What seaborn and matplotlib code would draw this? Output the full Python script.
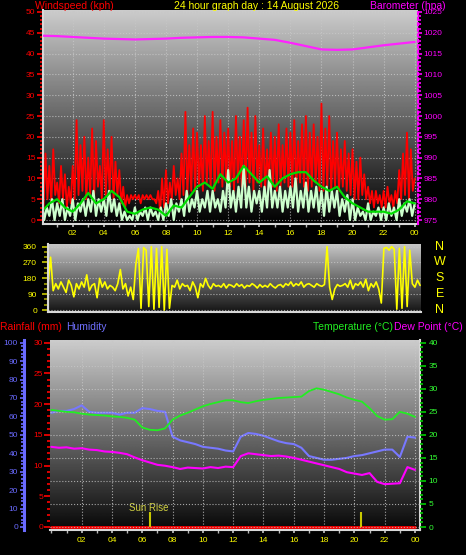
import numpy as np
import matplotlib
matplotlib.use("Agg")
import matplotlib.pyplot as plt
import matplotlib.transforms as mtrans
import seaborn as sns
from matplotlib.ticker import MultipleLocator, FixedLocator

sns.set_theme(style="ticks")
plt.rcParams['font.family'] = ['Liberation Sans', 'DejaVu Sans']

# ---- data ----
hour_ticks = [2, 4, 6, 8, 10, 12, 14, 16, 18, 20, 22, 24]
hour_labels = ['02', '04', '06', '08', '10', '12', '14', '16', '18', '20', '22', '00']

# gusts (kph), 8 samples per hour
gust_rows = [
    [11, 3, 16, 5, 13, 4, 17, 6],
    [9, 4, 13, 5, 11, 3, 8, 4],
    [13, 5, 24, 6, 18, 7, 20, 5],
    [15, 6, 22, 5, 19, 8, 13, 5],
    [24, 6, 17, 7, 20, 5, 14, 6],
    [12, 4, 8, 3, 6, 4, 6, 5],
    [6, 5, 6, 4, 6, 5, 6, 5],
    [6, 5, 5, 4, 7, 2, 10, 3],
    [12, 4, 9, 5, 13, 6, 10, 5],
    [16, 6, 26, 6, 18, 7, 22, 7],
    [21, 8, 18, 7, 25, 9, 19, 8],
    [26, 7, 20, 9, 24, 8, 21, 9],
    [22, 8, 19, 7, 25, 9, 20, 8],
    [24, 8, 27, 9, 21, 7, 25, 9],
    [18, 8, 22, 7, 17, 9, 21, 8],
    [20, 7, 23, 8, 18, 9, 22, 8],
    [21, 8, 24, 7, 19, 9, 23, 8],
    [25, 7, 21, 8, 23, 9, 20, 7],
    [28, 7, 22, 8, 25, 7, 19, 8],
    [21, 7, 17, 8, 19, 7, 16, 6],
    [17, 5, 14, 5, 15, 6, 11, 5],
    [8, 4, 7, 3, 7, 4, 6, 3],
    [7, 3, 8, 4, 6, 3, 7, 4],
    [12, 5, 16, 6, 21, 5, 17, 7],
]
gust_end = 10

# wind speed (kph), 6 samples per hour
speed_rows = [
    [5, 0, 3, 1, 5, 0],
    [4, 1, 5, 0, 3, 1],
    [5, 0, 4, 2, 5, 1],
    [5, 2, 7, 1, 5, 2],
    [5, 1, 7, 2, 5, 1],
    [4, 0, 2, 0, 1, 0],
    [3, 0, 2, 1, 3, 0],
    [3, 1, 2, 0, 3, 0],
    [4, 1, 5, 0, 4, 2],
    [5, 1, 7, 2, 5, 3],
    [7, 2, 5, 3, 7, 2],
    [7, 3, 5, 2, 7, 3],
    [12, 3, 7, 2, 8, 3],
    [13, 3, 8, 2, 7, 4],
    [7, 2, 8, 3, 12, 3],
    [7, 3, 8, 2, 7, 3],
    [8, 3, 10, 2, 7, 3],
    [9, 2, 7, 3, 8, 2],
    [7, 1, 8, 2, 7, 3],
    [7, 1, 5, 2, 6, 0],
    [5, 0, 3, 1, 2, 0],
    [4, 0, 2, 1, 3, 0],
    [3, 0, 4, 1, 3, 0],
    [5, 1, 4, 2, 5, 1],
]
speed_end = 4

# average wind (kph), every half hour
avg_wind = [2, 4, 5, 3, 2, 4, 6.5, 4, 5, 7, 5.5, 2, 1.5, 2.5, 3, 2.5,
            1, 3.5, 3, 5.5, 8, 9, 7.5, 11, 9, 10, 13, 11, 9, 10.5, 8, 10,
            11, 11.5, 11.5, 9.5, 8, 7, 8, 5.5, 4, 3, 2, 2, 2, 1.5, 2.5, 4.5, 4]

# barometer (hpa), hourly
barometer = [1019.3, 1019.2, 1019.0, 1018.8, 1018.6, 1018.5, 1018.4, 1018.5,
             1018.6, 1018.8, 1018.9, 1019.0, 1019.0, 1018.9, 1018.6, 1018.3,
             1017.6, 1016.8, 1016.0, 1015.9, 1016.0, 1016.5, 1017.0, 1017.4, 1017.8]

# wind direction (degrees), 6 samples per hour
direction_rows = [
    [140, 300, 110, 150, 120, 160],
    [130, 100, 170, 140, 75, 150],
    [120, 160, 130, 200, 110, 140],
    [150, 70, 180, 130, 160, 120],
    [140, 130, 110, 150, 230, 120],
    [150, 80, 130, 60, 260, 350],
    [10, 355, 340, 20, 360, 5],
    [350, 15, 360, 0, 345, 10],
    [140, 130, 170, 120, 150, 135],
    [140, 110, 160, 130, 70, 150],
    [130, 180, 140, 120, 150, 135],
    [140, 130, 150, 125, 145, 140],
    [130, 150, 135, 145, 125, 140],
    [135, 150, 140, 125, 145, 130],
    [140, 130, 150, 135, 125, 140],
    [145, 130, 150, 140, 160, 135],
    [150, 140, 160, 130, 145, 150],
    [140, 130, 150, 140, 135, 145],
    [360, 130, 60, 120, 145, 135],
    [140, 150, 130, 170, 120, 150],
    [140, 160, 130, 175, 110, 150],
    [130, 160, 120, 40, 350, 355],
    [340, 360, 345, 5, 350, 10],
    [360, 20, 340, 150, 130, 170],
]
direction_end = 140

# half-hourly temperature, humidity, dew point
temperature = [25.4, 25.2, 25.0, 24.9, 24.6, 24.4, 24.3, 24.2, 24.0, 23.9, 23.7, 23.3,
               21.6, 21.1, 21.0, 21.4, 23.3, 24.2, 24.8, 25.5, 26.2, 26.7, 27.1, 27.5,
               27.5, 27.1, 26.9, 27.3, 27.6, 27.8, 28.0, 28.1, 28.2, 28.3, 29.5, 30.1,
               29.8, 29.3, 28.8, 28.1, 27.6, 27.2, 25.8, 24.1, 23.3, 23.4, 25.0, 24.6, 23.9]
humidity = [62, 63, 63, 64, 66, 62.5, 62, 62, 62, 61, 62, 62,
            64.5, 64, 63, 62.5, 49, 47, 46, 45, 43.5, 43, 42.5, 41.5,
            41, 49, 51, 50.5, 49.5, 48, 46.5, 45.5, 45, 43, 38.5, 37.5,
            36.5, 36.5, 37, 37.5, 38.5, 39, 40, 41, 42, 42, 38, 49, 48.5]
dew_point = [17.4, 17.2, 17.3, 17.0, 17.1, 16.8, 16.7, 16.4, 16.3, 16.1, 15.8, 15.1,
             14.5, 14.0, 13.5, 13.3, 13.0, 12.6, 12.9, 12.8, 12.7, 13.0, 12.8, 13.1,
             13.0, 15.4, 16.0, 15.8, 15.6, 15.4, 15.5, 15.3, 15.0, 14.6, 14.2, 13.8,
             13.4, 13.0, 12.6, 11.9, 11.6, 11.3, 11.7, 9.8, 9.3, 9.4, 9.5, 13.0, 12.4]
rainfall = [0] * 25

sun_rise = 6.5
sun_set = 20.45

gust = np.array([v for row in gust_rows for v in row] + [gust_end], dtype=float)
speed = np.array([v for row in speed_rows for v in row] + [speed_end], dtype=float)
direction = np.array([v for row in direction_rows for v in row] + [direction_end], dtype=float)

W, H = 466, 555
fig = plt.figure(figsize=(W / 100, H / 100), dpi=100, facecolor='black')


def px_axes(x0, y0, x1, y1):
    return fig.add_axes([x0 / W, 1 - y1 / H, (x1 - x0) / W, (y1 - y0) / H])


def backdrop(ax, top, bottom):
    grad = np.linspace(top, bottom, 256).reshape(-1, 1)
    ax.imshow(grad, cmap='gray', vmin=0, vmax=1, extent=[0, 1, 0, 1],
              transform=ax.transAxes, aspect='auto', zorder=0, interpolation='bilinear')
    ax.set_facecolor('black')


def frame(ax, sides=('left', 'bottom')):
    for s in ax.spines:
        ax.spines[s].set_visible(s in sides)
        ax.spines[s].set_color('#d8d8d8')
        ax.spines[s].set_linewidth(1.5)


def line(ax, x, y, color, lw):
    sns.lineplot(x=x, y=y, ax=ax, color=color, linewidth=lw, estimator=None, legend=False)


grid_kw = dict(color='#c8c8c8', linestyle=':', linewidth=0.8, alpha=0.8)
small = 6

# ---------------- top panel: wind + barometer ----------------
ax1 = px_axes(43, 10, 418, 224)
backdrop(ax1, 0.80, 0.0)
line(ax1, np.arange(len(gust)) / 8, gust, '#ff0000', 1.3)
line(ax1, np.arange(len(speed)) / 6, speed, '#ccffcc', 1.6)
line(ax1, np.arange(len(avg_wind)) / 2, avg_wind, '#00dd00', 1.6)
ax1.set_xlim(0.09, 24.21)
ax1.set_ylim(-0.96, 50.48)
frame(ax1)
ax1.xaxis.set_major_locator(FixedLocator(hour_ticks))
ax1.set_xticklabels(hour_labels)
ax1.xaxis.set_minor_locator(MultipleLocator(1))
ax1.yaxis.set_major_locator(MultipleLocator(5))
ax1.yaxis.set_minor_locator(MultipleLocator(1))
ax1.tick_params(axis='x', which='both', colors='#bbbbbb', labelcolor='yellow',
                labelsize=small, length=2, pad=2)
ax1.tick_params(axis='y', which='major', colors='red', labelsize=small, length=4, width=1.2, pad=1.5)
ax1.tick_params(axis='y', which='minor', colors='red', length=2, width=1.2)
ax1.grid(True, which='major', **grid_kw)
ax1.set_axisbelow(True)

ax1b = ax1.twinx()
line(ax1b, np.arange(len(barometer)), barometer, '#ff22ff', 1.6)
ax1b.set_ylim(974.04, 1025.48)
ax1b.set_xlim(0.09, 24.21)
for s in ax1b.spines:
    ax1b.spines[s].set_visible(s == 'right')
ax1b.spines['right'].set_color('#ff00ff')
ax1b.spines['right'].set_linestyle(':')
ax1b.spines['right'].set_linewidth(1.5)
ax1b.yaxis.set_major_locator(MultipleLocator(5))
ax1b.yaxis.set_minor_locator(MultipleLocator(1))
ax1b.tick_params(axis='y', which='major', colors='#ff00ff', labelsize=small, length=3, width=1.2, pad=1)
ax1b.tick_params(axis='y', which='minor', colors='#ff00ff', length=2, width=1.2)
ax1b.set_ylabel('')

# ---------------- middle panel: wind direction ----------------
ax2 = px_axes(48, 244, 421, 312)
backdrop(ax2, 0.78, 0.08)
line(ax2, np.arange(len(direction)) / 6, direction, '#ffff00', 1.2)
ax2.set_xlim(0, 24.06)
ax2.set_ylim(-11, 375)
frame(ax2)
ax2.set_xticks([])
ax2.yaxis.set_major_locator(FixedLocator([0, 90, 180, 270, 360]))
ax2.yaxis.set_minor_locator(MultipleLocator(30))
ax2.tick_params(axis='y', which='major', colors='#c8c800', labelcolor='yellow',
                labelsize=small, length=4, width=1.2, pad=4)
ax2.tick_params(axis='y', which='minor', colors='#a0a000', length=3, width=1.2)
ax2.grid(True, axis='y', which='major', **grid_kw)
ax2.set_axisbelow(True)
blend = mtrans.blended_transform_factory(fig.transFigure, ax2.transData)
for deg, name in zip([360, 270, 180, 90, 0], ['N', 'W', 'S', 'E', 'N']):
    ax2.text(440 / W, deg, name, color='yellow', fontsize=9, ha='center', va='center',
             transform=blend)

# ---------------- bottom panel: rain, humidity, temperature ----------------
ax3 = px_axes(50, 340, 420, 530)
backdrop(ax3, 0.80, 0.03)
line(ax3, np.arange(len(rainfall)), rainfall, '#ff0000', 2.0)
ax3.vlines([sun_rise, sun_set], 0, 2.5, color='#c8c800', linewidth=1.5, zorder=3)
ax3.text(sun_rise - 0.1, 3.1, 'Sun Rise', color='#d0d040', fontsize=7, ha='center', va='center')
ax3.set_xlim(-0.09, 24.33)
ax3.set_ylim(-0.49, 30.44)
frame(ax3, ('bottom', 'right'))
ax3.xaxis.set_major_locator(FixedLocator(hour_ticks))
ax3.set_xticklabels(hour_labels)
ax3.xaxis.set_minor_locator(MultipleLocator(1))
ax3.yaxis.set_major_locator(MultipleLocator(5))
ax3.yaxis.set_minor_locator(MultipleLocator(1))
ax3.tick_params(axis='x', which='both', colors='#bbbbbb', labelcolor='yellow',
                labelsize=small, length=2, pad=3)
ax3.tick_params(axis='y', which='major', colors='red', labelsize=small, length=4, width=1.2, pad=1)
ax3.tick_params(axis='y', which='minor', colors='red', length=2, width=1.2)
ax3.grid(True, which='major', axis='x', **grid_kw)
ax3.set_axisbelow(True)

ax3h = ax3.twinx()
line(ax3h, np.arange(len(humidity)) / 2, humidity, '#7878ff', 1.5)
ax3h.set_ylim(-1.63, 101.47)
ax3h.set_xlim(-0.09, 24.33)
ax3h.yaxis.tick_left()
for s in ax3h.spines:
    ax3h.spines[s].set_visible(s == 'left')
ax3h.spines['left'].set_position(('outward', 19))
ax3h.spines['left'].set_color('#6a6aff')
ax3h.spines['left'].set_linewidth(2.2)
ax3h.yaxis.set_major_locator(MultipleLocator(10))
ax3h.yaxis.set_minor_locator(MultipleLocator(2))
ax3h.tick_params(axis='y', which='major', colors='#6a6aff', labelsize=small, length=3, width=1.2, pad=1)
ax3h.tick_params(axis='y', which='minor', colors='#6a6aff', length=2, width=1.2)
ax3h.set_ylabel('')

ax3t = ax3.twinx()
line(ax3t, np.arange(len(dew_point)) / 2, dew_point, '#ff00ff', 1.5)
line(ax3t, np.arange(len(temperature)) / 2, temperature, '#22ee22', 1.3)
ax3t.set_ylim(-0.65, 40.59)
ax3t.set_xlim(-0.09, 24.33)
for s in ax3t.spines:
    ax3t.spines[s].set_visible(False)
ax3t.yaxis.set_major_locator(MultipleLocator(5))
ax3t.yaxis.set_minor_locator(MultipleLocator(1))
ax3t.tick_params(axis='y', which='major', colors='#00cc00', labelcolor='#33ff33',
                 labelsize=small, length=4, width=1.2, pad=2)
ax3t.tick_params(axis='y', which='minor', colors='#00cc00', length=2, width=1.2)
ax3t.grid(True, which='major', axis='y', **grid_kw)
ax3t.set_ylabel('')

# ---------------- headings ----------------
fs = 7.5
fig.text(35 / W, 1 - 6 / H, 'Windspeed (kph)', color='red', fontsize=fs, ha='left', va='center')
fig.text(257 / W, 1 - 6 / H, '24 hour graph day : 14 August 2026', color='yellow', fontsize=fs,
         ha='center', va='center')
fig.text(446 / W, 1 - 6 / H, 'Barometer (hpa)', color='#ff00ff', fontsize=fs, ha='right', va='center')
fig.text(0 / W, 1 - 327 / H, 'Rainfall (mm)', color='red', fontsize=fs, ha='left', va='center')
fig.text(66 / W, 1 - 327 / H, 'Humidity', color='#7070ff', fontsize=fs, ha='left', va='center')
fig.text(393 / W, 1 - 327 / H, 'Temperature (°C)', color='#22ee22', fontsize=fs, ha='right', va='center')
fig.text(394 / W, 1 - 327 / H, 'Dew Point (°C)', color='#ff00ff', fontsize=fs, ha='left', va='center')

fig.savefig('out.png', dpi=100, facecolor='black')
